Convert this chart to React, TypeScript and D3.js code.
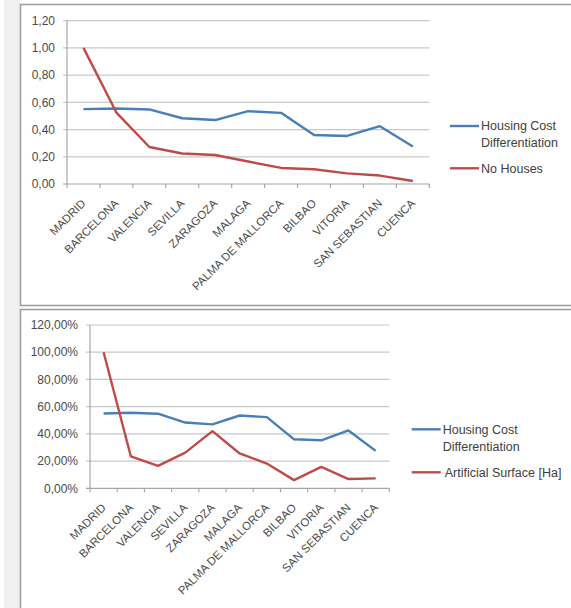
import React from 'react';
import * as d3 from 'd3';

const categories = [
  'MADRID',
  'BARCELONA',
  'VALENCIA',
  'SEVILLA',
  'ZARAGOZA',
  'MALAGA',
  'PALMA DE MALLORCA',
  'BILBAO',
  'VITORIA',
  'SAN SEBASTIAN',
  'CUENCA',
];

const housingCost = [0.55, 0.555, 0.548, 0.483, 0.47, 0.535, 0.523, 0.36, 0.353, 0.425, 0.275];
const noHouses = [1.0, 0.525, 0.272, 0.224, 0.213, 0.165, 0.118, 0.108, 0.078, 0.062, 0.022];
const artificialSurface = [1.0, 0.235, 0.165, 0.262, 0.42, 0.256, 0.182, 0.06, 0.157, 0.068, 0.073];

const yTicks = [0, 0.2, 0.4, 0.6, 0.8, 1.0, 1.2];

const BLUE = '#4a7ebb';
const RED = '#be4b48';
const FONT = '"Liberation Sans", Arial, sans-serif';

type Series = { name: string[]; values: number[]; color: string; textDx?: number };

type ChartProps = {
  left: number;
  right: number;
  top: number;
  bottom: number;
  fmt: (v: number) => string;
  series: Series[];
  legendX: number;
  legendY: number[];
};

function LineChart({ left, right, top, bottom, fmt, series, legendX, legendY }: ChartProps) {
  const x = d3.scaleBand().domain(categories).range([left, right]);
  const y = d3.scaleLinear().domain([0, 1.2]).range([bottom, top]);
  const line = d3
    .line<number>()
    .x((_, i) => (x(categories[i]) as number) + x.bandwidth() / 2)
    .y((d) => y(d));

  const ticksX = [...categories.map((c) => x(c) as number), right];

  return (
    <g>
      {/* gridlines */}
      {yTicks.map((t) => (
        <g key={t}>
          <line x1={left - 4} x2={right} y1={y(t)} y2={y(t)} stroke={t === 0 ? '#a6a6a6' : '#c8c8c8'} strokeWidth={1.2} />
          <text x={left - 12} y={y(t)} dy="0.35em" textAnchor="end" fontSize={12} fill="#4a4a4a">
            {fmt(t)}
          </text>
        </g>
      ))}
      {/* y axis */}
      <line x1={left} x2={left} y1={top} y2={bottom} stroke="#a6a6a6" strokeWidth={1.2} />
      {/* x ticks */}
      {ticksX.map((tx, i) => (
        <line key={i} x1={tx} x2={tx} y1={bottom} y2={bottom + 4} stroke="#a6a6a6" strokeWidth={1.2} />
      ))}
      {categories.map((c) => (
        <text
          key={c}
          transform={`translate(${(x(c) as number) + x.bandwidth() / 2 + 3},${bottom + 20}) rotate(-45)`}
          textAnchor="end"
          fontSize={11.5}
          fill="#4a4a4a"
        >
          {c}
        </text>
      ))}
      {/* lines */}
      {series.map((s) => (
        <path key={s.color} d={line(s.values) || ''} fill="none" stroke={s.color} strokeWidth={2.4} strokeLinejoin="round" />
      ))}
      {/* legend */}
      {series.map((s, i) => (
        <g key={'lg' + i}>
          <line x1={legendX} x2={legendX + 29} y1={legendY[i]} y2={legendY[i]} stroke={s.color} strokeWidth={2.4} />
          {s.name.map((n, j) => (
            <text
              key={n}
              x={legendX + 31 + (s.textDx || 0)}
              y={legendY[i] + j * 17}
              dy="0.35em"
              fontSize={12.5}
              fill="#404040"
            >
              {n}
            </text>
          ))}
        </g>
      ))}
    </g>
  );
}

const fmtDec = (v: number) => d3.format('.2f')(v).replace('.', ',');
const fmtPct = (v: number) => d3.format('.2%')(v).replace('.', ',');

export default function App() {
  return (
    <svg
      width={571}
      height={608}
      style={{ position: 'absolute', left: 0, top: 0, fontFamily: FONT }}
    >
      <rect x={0} y={0} width={571} height={608} fill="#ffffff" />
      <rect x={4} y={0} width={16} height={608} fill="#f0f0f0" />
      {/* panels */}
      <rect x={20.5} y={4.5} width={600} height={301} fill="#ffffff" stroke="#a0a0a0" strokeWidth={1.6} />
      <rect x={20.5} y={309.5} width={600} height={400} fill="#ffffff" stroke="#a0a0a0" strokeWidth={1.6} />
      <LineChart
        left={67}
        right={429.3}
        top={20.7}
        bottom={184}
        fmt={fmtDec}
        series={[
          { name: ['Housing Cost', 'Differentiation'], values: housingCost, color: BLUE },
          { name: ['No Houses'], values: noHouses, color: RED },
        ]}
        legendX={450}
        legendY={[126, 168.3]}
      />
      <LineChart
        left={90}
        right={389.3}
        top={325}
        bottom={488.3}
        fmt={fmtPct}
        series={[
          { name: ['Housing Cost', 'Differentiation'], values: housingCost, color: BLUE },
          { name: ['Artificial Surface [Ha]'], values: artificialSurface, color: RED, textDx: 2 },
        ]}
        legendX={411.7}
        legendY={[429.3, 472.3]}
      />
    </svg>
  );
}
